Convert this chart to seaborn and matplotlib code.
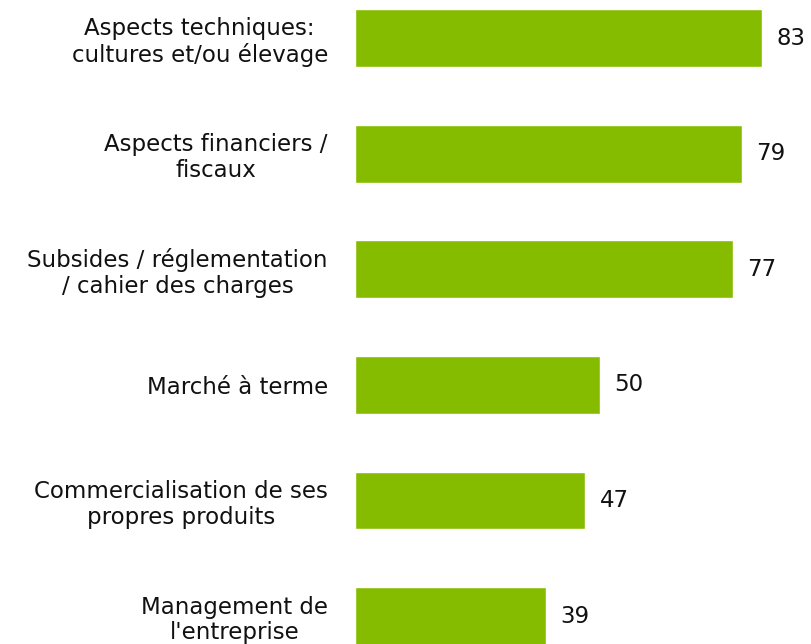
import matplotlib
matplotlib.use("Agg")
import matplotlib.pyplot as plt
import seaborn as sns
import pandas as pd

categories = [
    "Aspects techniques:\ncultures et/ou élevage",
    "Aspects financiers /\nfiscaux",
    "Subsides / réglementation\n/ cahier des charges",
    "Marché à terme",
    "Commercialisation de ses\npropres produits",
    "Management de\nl'entreprise",
]
values = [83, 79, 77, 50, 47, 39]

df = pd.DataFrame({"theme": categories, "score": values})

sns.set_theme(style="white")
plt.rcParams["font.family"] = ["DejaVu Sans"]

fig = plt.figure(figsize=(8.11, 6.44), dpi=100)
ax = fig.add_axes([355 / 811, 0, 1 - 355 / 811, 1])

sns.barplot(data=df, x="score", y="theme", color="#86BC00", saturation=1,
            width=0.5, ax=ax, orient="h")

ax.set_xlim(0, 456 / (407 / 83))
ax.set_ylim(5.242, -0.329)
ax.set_xlabel("")
ax.set_ylabel("")
ax.set_xticks([])
ax.tick_params(axis="y", length=0, pad=19.5, labelsize=16.5, labelcolor="#111111")
for lbl in ax.get_yticklabels():
    lbl.set_horizontalalignment("right")
    lbl.set_multialignment("center")
    lbl.set_linespacing(1.15)
for s in ax.spines.values():
    s.set_visible(False)

for i, v in enumerate(values):
    ax.text(v + 2.9, i, f"{v}", va="center", ha="left", fontsize=16.5, color="#111111")

fig.savefig("out.png", dpi=100)
